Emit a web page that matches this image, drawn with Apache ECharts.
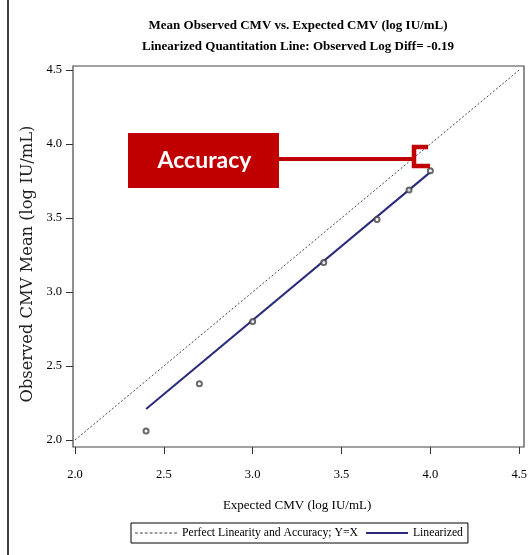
<!DOCTYPE html>
<html>
<head>
<meta charset="utf-8">
<script src="https://cdn.jsdelivr.net/npm/echarts@6/dist/echarts.min.js"></script>
<style>html,body{margin:0;padding:0;background:#fff;}#c{width:530px;height:555px;}</style>
</head>
<body>
<div id="c"></div>
<script>
// ---- data ----
const expected = [2.4, 2.7, 3.0, 3.4, 3.7, 3.88, 4.0];
const observed = [2.06, 2.38, 2.80, 3.20, 3.49, 3.69, 3.82];
const identityX = [2.0, 4.5];
const linearX = [2.4, 4.0];
const logDiff = -0.19;
const linearY = linearX.map(v => +(v + logDiff).toFixed(2));
const axisMin = 2.0, axisMax = 4.5, axisStep = 0.5;
const titleLines = ['Mean Observed CMV vs. Expected CMV (log IU/mL)', 'Linearized Quantitation Line: Observed Log Diff= -0.19'];
const seriesNames = ['Perfect Linearity and Accuracy; Y=X', 'Linearized'];

const serif = 'Liberation Serif';
// legend icon shapes (styling only)
let dashPath = 'path://';
for (let x = 0; x < 42; x += 5) dashPath += 'M' + x + ',0h3v1.2h-3z';
const solidPath = 'path://M0,0h42v2h-42z';

const chart = echarts.init(document.getElementById('c'), null, {renderer: 'canvas'});
const option = {
  backgroundColor: '#fff',
  animation: false,
  title: {
    text: titleLines.join('\n'),
    left: 298, top: 15.5, textAlign: 'center', padding: 0,
    textStyle: {fontFamily: serif, fontSize: 13, fontWeight: 'bold', color: '#000', lineHeight: 21}
  },
  grid: {left: 75, right: 9, top: 70, bottom: 115, show: false},
  xAxis: {
    type: 'value', min: axisMin, max: axisMax, interval: axisStep,
    offset: 7,
    name: 'Expected CMV (log IU/mL)', nameLocation: 'middle', nameGap: 52,
    nameTextStyle: {fontFamily: serif, fontSize: 13, color: '#000'},
    axisLine: {show: false},
    axisTick: {show: true, length: 7, lineStyle: {color: '#333'}},
    axisLabel: {fontFamily: serif, fontSize: 12.5, color: '#000', margin: 21, formatter: v => v.toFixed(1)},
    splitLine: {show: false}
  },
  yAxis: {
    type: 'value', min: axisMin, max: axisMax, interval: axisStep,
    offset: 2,
    name: 'Observed CMV Mean (log IU/mL)', nameLocation: 'middle', nameGap: 27, nameRotate: 90,
    nameTextStyle: {fontFamily: 'DejaVu Serif', fontSize: 16.3, color: '#222', padding: [0, 18, 0, 0]},
    axisLine: {show: false},
    axisTick: {show: true, length: 7, lineStyle: {color: '#333'}},
    axisLabel: {fontFamily: serif, fontSize: 12.5, color: '#000', margin: 11, formatter: v => v.toFixed(1)},
    splitLine: {show: false}
  },
  legend: {
    data: [
      {name: seriesNames[0], icon: dashPath, itemStyle: {color: '#444'}},
      {name: seriesNames[1], icon: solidPath, itemStyle: {color: '#2a2a7c'}}
    ],
    left: 131, top: 523,
    itemWidth: 42, itemHeight: 14, itemGap: 8,
    padding: [4, 5, 4, 4],
    borderColor: '#000', borderWidth: 1,
    textStyle: {fontFamily: serif, fontSize: 11.7, color: '#000'}
  },
  series: [
    {
      name: seriesNames[0], type: 'line', showSymbol: false, symbol: 'none',
      data: identityX.map(v => [v, v]),
      lineStyle: {type: [2, 2], color: '#444', width: 1},
      itemStyle: {color: '#444'}, z: 2
    },
    {
      name: seriesNames[1], type: 'line', showSymbol: false, symbol: 'none',
      data: linearX.map((v, i) => [v, linearY[i]]),
      lineStyle: {color: '#2a2a7c', width: 2},
      itemStyle: {color: '#2a2a7c'}, z: 3
    },
    {
      name: 'Observed', type: 'scatter', symbol: 'emptyCircle', symbolSize: 5,
      data: expected.map((v, i) => [v, observed[i]]),
      itemStyle: {color: '#444', borderWidth: 1}, z: 4
    }
  ],
  graphic: [
    {type: 'line', shape: {x1: 8, y1: 0, x2: 8, y2: 555}, style: {stroke: '#000', lineWidth: 1.5}, silent: true},
    {type: 'rect', shape: {x: 73, y: 66, width: 451, height: 381}, style: {fill: 'none', stroke: '#444', lineWidth: 1.2}, silent: true, z: 10},
    {type: 'rect', shape: {x: 128, y: 133, width: 151, height: 55}, style: {fill: '#c00000'}, z: 20},
    {type: 'text', x: 204.5, y: 161, style: {text: 'Accuracy', fill: '#fff', font: 'bold 23px Lato', align: 'center', verticalAlign: 'middle'}, z: 21},
    {type: 'line', shape: {x1: 279, y1: 159, x2: 414, y2: 159}, style: {stroke: '#c00000', lineWidth: 4}, z: 20},
    {type: 'polyline', shape: {points: [[428, 147], [414, 147], [414, 166], [430, 166]]}, style: {stroke: '#c00000', lineWidth: 4.5, fill: 'none', lineJoin: 'miter'}, z: 20}
  ]
};
chart.setOption(option);
</script>
</body>
</html>
